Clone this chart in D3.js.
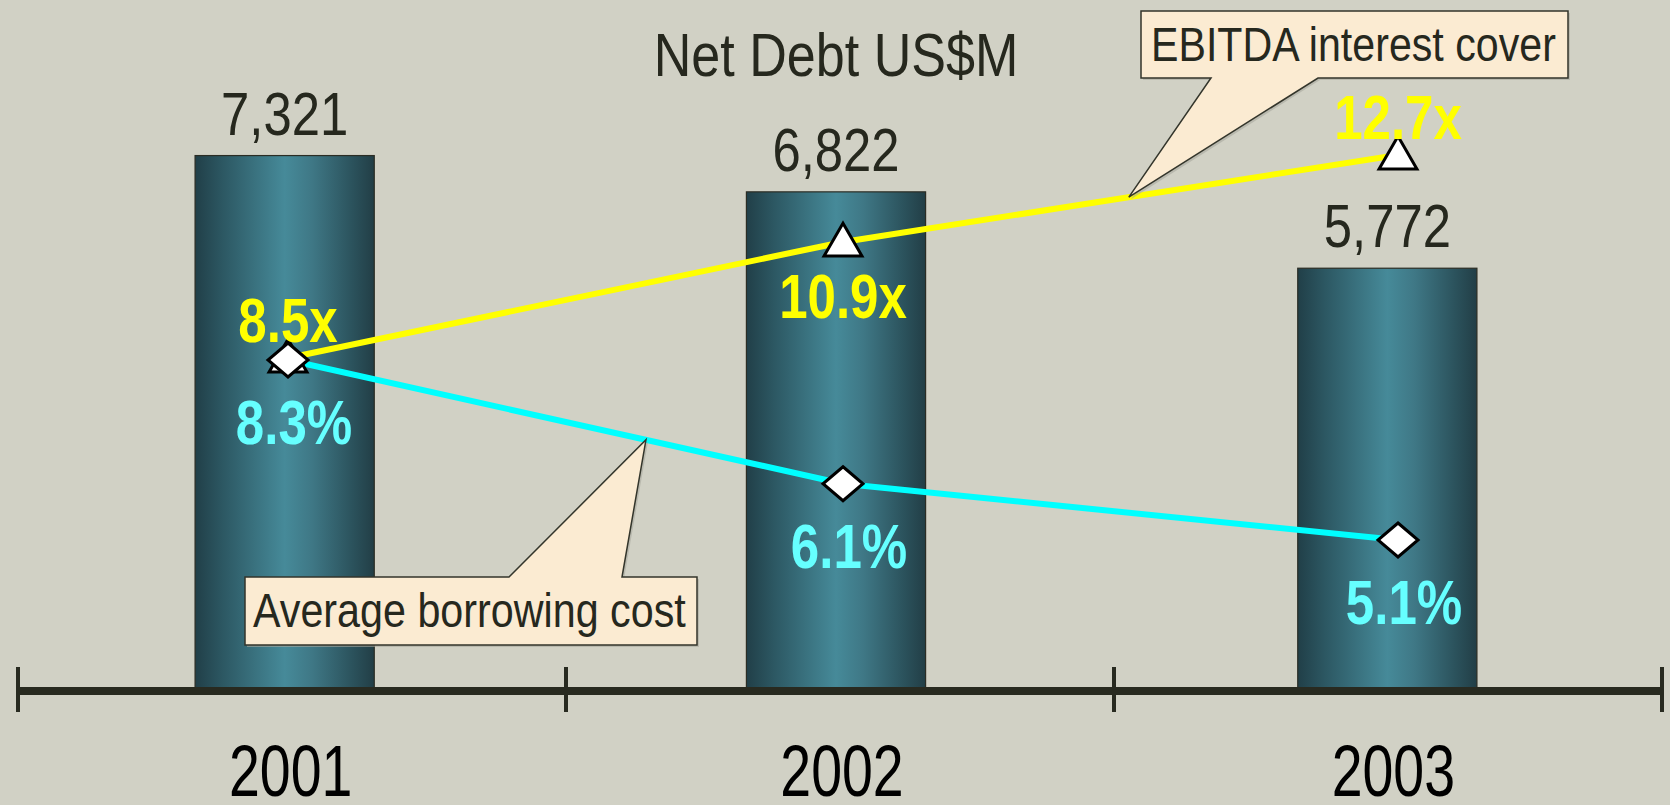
<!DOCTYPE html>
<html>
<head>
<meta charset="utf-8">
<script src="https://cdn.jsdelivr.net/npm/d3@7"></script>
<style>
  html, body { margin: 0; padding: 0; background: #d1d1c5; }
  svg { display: block; }
</style>
</head>
<body>
<div id="chart"></div>
<script>
// ---------- data ----------
const years = ["2001", "2002", "2003"];
const netDebt = [7321, 6822, 5772];
const debtLabels = ["7,321", "6,822", "5,772"];
const interestCover = [8.5, 10.9, 12.7];
const coverLabels = ["8.5x", "10.9x", "12.7x"];
const borrowingCost = [8.3, 6.1, 5.1];
const costLabels = ["8.3%", "6.1%", "5.1%"];
const chartTitle = "Net Debt US$M";
const coverCallout = "EBITDA interest cover";
const costCallout = "Average borrowing cost";

// ---------- layout ----------
const W = 1670, H = 805;
const FONT = "'Liberation Sans', Arial, sans-serif";
const DARK = "#26281e";

const svg = d3.select("#chart").append("svg")
  .attr("width", W).attr("height", H);
svg.append("rect").attr("width", W).attr("height", H).attr("fill", "#d1d1c5");

const defs = svg.append("defs");
const grad = defs.append("linearGradient").attr("id", "barGrad")
  .attr("x1", "0").attr("x2", "1").attr("y1", "0").attr("y2", "0");
[[0, "#213f48"], [0.15, "#2c5762"], [0.5, "#468a99"], [0.65, "#3f7886"], [0.88, "#2b525c"], [1, "#223e46"]]
  .forEach(([o, c]) => grad.append("stop").attr("offset", o).attr("stop-color", c));

// scales
const xAxis = d3.scaleBand().domain(years).range([18, 1662]).padding(0);   // axis line & ticks
const x = d3.scaleBand().domain(years).range([9, 1663]).padding(0);        // bars
const xLine = d3.scalePoint().domain(years).range([288, 1398]);             // line series
const cx = d => x(d) + x.bandwidth() / 2;
const barW = x.bandwidth() * 0.325;
const axisY = 691;
const yDebt = d3.scaleLinear().domain([0, 9460]).range([688, 0]);
const yCover = d3.scaleLinear().domain([8.5, 12.7]).range([358, 155]);
const yCost = d3.scaleLinear().domain([5.1, 8.3]).range([540, 360]);

// condensed text helper
function ctext(g, str, px, py, size, opts = {}) {
  const grp = g.append("g").attr("transform", `translate(${px},${py}) scale(${opts.sx || 0.82},1)`);
  grp.append("text")
    .attr("x", 0).attr("y", 0)
    .attr("text-anchor", opts.anchor || "middle")
    .attr("font-family", FONT)
    .attr("font-size", size)
    .attr("font-weight", opts.weight || "normal")
    .attr("fill", opts.fill || DARK)
    .text(str);
  return grp;
}

// ---------- bars ----------
const barsG = svg.append("g");
barsG.selectAll("rect").data(years).join("rect")
  .attr("x", d => cx(d) - barW / 2)
  .attr("width", barW)
  .attr("y", (d, i) => yDebt(netDebt[i]))
  .attr("height", (d, i) => yDebt(0) - yDebt(netDebt[i]))
  .attr("fill", "url(#barGrad)")
  .attr("stroke", "#2b2d24").attr("stroke-width", 1.2);

years.forEach((d, i) => ctext(svg, debtLabels[i], cx(d), yDebt(netDebt[i]) - 21, 62));

// title
ctext(svg, chartTitle, cx(years[1]), 76, 62, { sx: 0.84 });

// ---------- axis ----------
const [r0, r1] = xAxis.range();
svg.append("line").attr("x1", r0).attr("x2", r1).attr("y1", axisY).attr("y2", axisY)
  .attr("stroke", "#282a20").attr("stroke-width", 8);
const tickXs = d3.range(years.length + 1).map(i => r0 + i * xAxis.bandwidth());
svg.selectAll(".tick").data(tickXs).join("line")
  .attr("x1", d => d).attr("x2", d => d)
  .attr("y1", axisY - 24).attr("y2", axisY + 21)
  .attr("stroke", "#282a20").attr("stroke-width", 4);
years.forEach(d => ctext(svg, d, cx(d) + 6, 796, 73, { sx: 0.76, fill: "#000" }));

// ---------- lines ----------
const coverPts = years.map((d, i) => [xLine(d), yCover(interestCover[i])]);
const costPts = years.map((d, i) => [xLine(d), yCost(borrowingCost[i])]);
const lineGen = d3.line();
svg.append("path").attr("d", lineGen(coverPts)).attr("fill", "none")
  .attr("stroke", "#ffff00").attr("stroke-width", 6);
svg.append("path").attr("d", lineGen(costPts)).attr("fill", "none")
  .attr("stroke", "#00ffff").attr("stroke-width", 6);

// markers
svg.selectAll(".tri").data(coverPts).join("path")
  .attr("transform", d => `translate(${d[0]},${d[1] + 3})`)
  .attr("d", d3.symbol(d3.symbolTriangle, 620)())
  .attr("fill", "#fff").attr("stroke", "#000").attr("stroke-width", 3);
const diamond = "M0,-17L20,0L0,17L-20,0Z";
svg.selectAll(".dia").data(costPts).join("path")
  .attr("transform", d => `translate(${d[0]},${d[1]})`)
  .attr("d", diamond)
  .attr("fill", "#fff").attr("stroke", "#000").attr("stroke-width", 3);

// value labels
const coverPlace = ["above", "below", "above"];
coverPts.forEach((p, i) => {
  const dy = coverPlace[i] === "above" ? -16 : 76;
  ctext(svg, coverLabels[i], p[0], p[1] + dy, 63, { weight: "bold", fill: "#ffff00", sx: 0.81 });
});
costPts.forEach((p, i) => {
  ctext(svg, costLabels[i], p[0] + 6, p[1] + 84, 63, { weight: "bold", fill: "#66ffff", sx: 0.81 });
});

// ---------- callouts ----------
function callout(box, base, tip, label, textSize, sx, textX, textY) {
  const [bx0, by0, bx1, by1] = box;
  const onTop = tip[1] < by0;
  let pts;
  if (onTop) {
    pts = [[bx0, by0], [base[0], by0], tip, [base[1], by0], [bx1, by0], [bx1, by1], [bx0, by1]];
  } else {
    pts = [[bx0, by0], [bx1, by0], [bx1, by1], [base[1], by1], tip, [base[0], by1], [bx0, by1]];
  }
  const d = "M" + pts.map(p => p.join(",")).join("L") + "Z";
  svg.append("path").attr("d", d)
    .attr("transform", "translate(2,2)")
    .attr("fill", "#a9a99e").attr("opacity", 0.6);
  svg.append("path").attr("d", d)
    .attr("fill", "#fbebd2").attr("stroke", "#33352b").attr("stroke-width", 1.5)
    .attr("stroke-linejoin", "miter");
  ctext(svg, label, textX, textY, textSize, { anchor: "start", sx });
}
const lerp = (a, b, t) => [a[0] + (b[0] - a[0]) * t, a[1] + (b[1] - a[1]) * t];
callout([1141, 11, 1568, 78], [1211, 1318], lerp(coverPts[1], coverPts[2], 0.515),
  coverCallout, 49, 0.84, 1151, 61);
callout([245, 577, 697, 645], [509, 622], lerp(costPts[0], costPts[1], 0.645),
  costCallout, 48, 0.86, 253, 627);
</script>
</body>
</html>
